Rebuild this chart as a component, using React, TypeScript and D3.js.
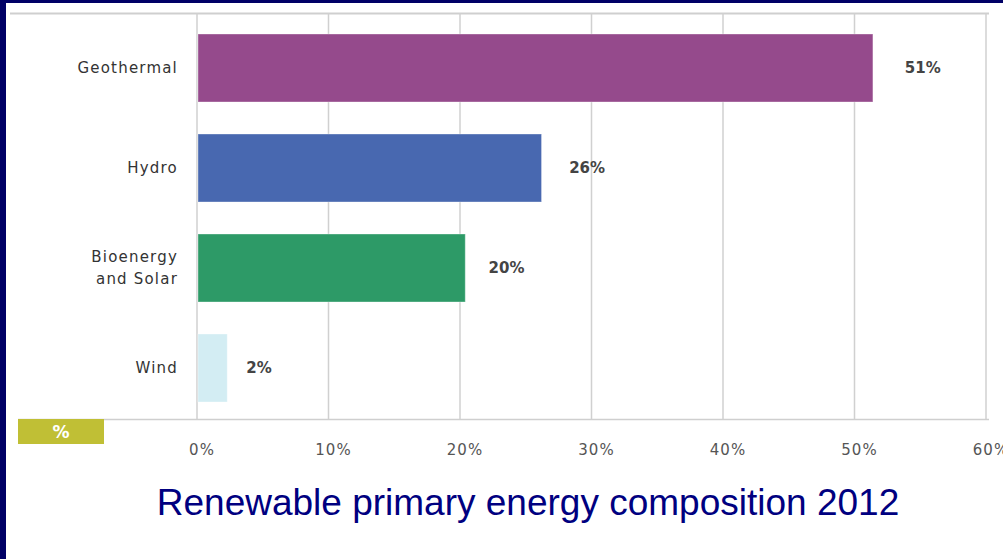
import React, { useEffect, useRef } from "react";
import * as d3 from "d3";

const categories = ["Geothermal", "Hydro", "Bioenergy\nand Solar", "Wind"];
const shares = [51.4, 26.2, 20.4, 2.3];
const shareLabels = ["51%", "26%", "20%", "2%"];
const barColors = ["#954a8c", "#4868b0", "#2d9a67", "#d3edf3"];
const xTicks = [0, 10, 20, 30, 40, 50, 60];

const W = 1003;
const H = 559;

const App = () => {
  const ref = useRef<SVGSVGElement>(null);

  useEffect(() => {
    const svg = d3.select(ref.current);
    svg.selectAll("*").remove();

    // frame
    svg.append("rect").attr("width", W).attr("height", H).attr("fill", "#000066");
    svg.append("rect").attr("x", 6).attr("y", 3).attr("width", W - 6).attr("height", H - 3).attr("fill", "#fff");

    const x = d3.scaleLinear().domain([0, 60]).range([197, 986]);
    const y = d3.scaleBand().domain(categories).range([18, 418]).paddingInner(0.32).paddingOuter(0.16);

    const font = "'DejaVu Sans', sans-serif";

    // grid
    svg.append("line").attr("x1", 10).attr("x2", 989).attr("y1", 13.5).attr("y2", 13.5)
      .attr("stroke", "#cfcfcf").attr("stroke-width", 2);
    svg.selectAll(".grid")
      .data(xTicks)
      .enter()
      .append("line")
      .attr("x1", d => x(d)).attr("x2", d => x(d))
      .attr("y1", 13).attr("y2", 419)
      .attr("stroke", "#d0d0d0").attr("stroke-width", 1.5);
    svg.append("line").attr("x1", 18).attr("x2", 989).attr("y1", 419.5).attr("y2", 419.5)
      .attr("stroke", "#cfcfcf").attr("stroke-width", 1.5);

    // bars
    svg.selectAll(".bar")
      .data(categories)
      .enter()
      .append("rect")
      .attr("x", x(0) + 1)
      .attr("y", d => y(d)!)
      .attr("width", (d, i) => x(shares[i]) - x(0) - 1)
      .attr("height", y.bandwidth())
      .attr("fill", (d, i) => barColors[i])
      .attr("stroke", "rgba(255,255,255,0.35)")
      .attr("stroke-width", 1);

    // value labels
    svg.selectAll(".val")
      .data(categories)
      .enter()
      .append("text")
      .attr("x", (d, i) => x(shares[i]) + 19 + (3 - i) * 4.3)
      .attr("y", d => y(d)! + y.bandwidth() / 2 + 5)
      .attr("font-family", font)
      .attr("font-size", 15)
      .attr("font-weight", "bold")
      .attr("fill", "#444")
      .text((d, i) => shareLabels[i]);

    // category labels
    categories.forEach(c => {
      const lines = c.split("\n");
      const cy = y(c)! + y.bandwidth() / 2;
      lines.forEach((ln, j) => {
        svg.append("text")
          .attr("x", 178)
          .attr("y", cy + 5 + (j - (lines.length - 1) / 2) * 22)
          .attr("text-anchor", "end")
          .attr("font-family", font)
          .attr("font-size", 15)
          .attr("letter-spacing", 1.2)
          .attr("fill", "#333")
          .text(ln);
      });
    });

    // tick labels
    svg.selectAll(".tick")
      .data(xTicks)
      .enter()
      .append("text")
      .attr("x", d => x(d) + 5)
      .attr("y", 455)
      .attr("text-anchor", "middle")
      .attr("font-family", font)
      .attr("font-size", 15)
      .attr("letter-spacing", 1)
      .attr("fill", "#555")
      .text(d => `${d}%`);

    // unit box
    svg.append("rect").attr("x", 18).attr("y", 419).attr("width", 86).attr("height", 25).attr("fill", "#c0bf35");
    svg.append("text").attr("x", 61).attr("y", 438).attr("text-anchor", "middle")
      .attr("font-family", font).attr("font-size", 17).attr("font-weight", "bold").attr("fill", "#fff").text("%");

    // title
    svg.append("text").attr("x", 528).attr("y", 515).attr("text-anchor", "middle")
      .attr("font-family", "'Liberation Sans', Arial, sans-serif").attr("font-size", 37)
      .attr("fill", "#000080").text("Renewable primary energy composition 2012");
  }, []);

  return (
    <svg ref={ref} width={W} height={H} style={{ position: "fixed", left: 0, top: 0 }}></svg>
  );
};

export default App;
